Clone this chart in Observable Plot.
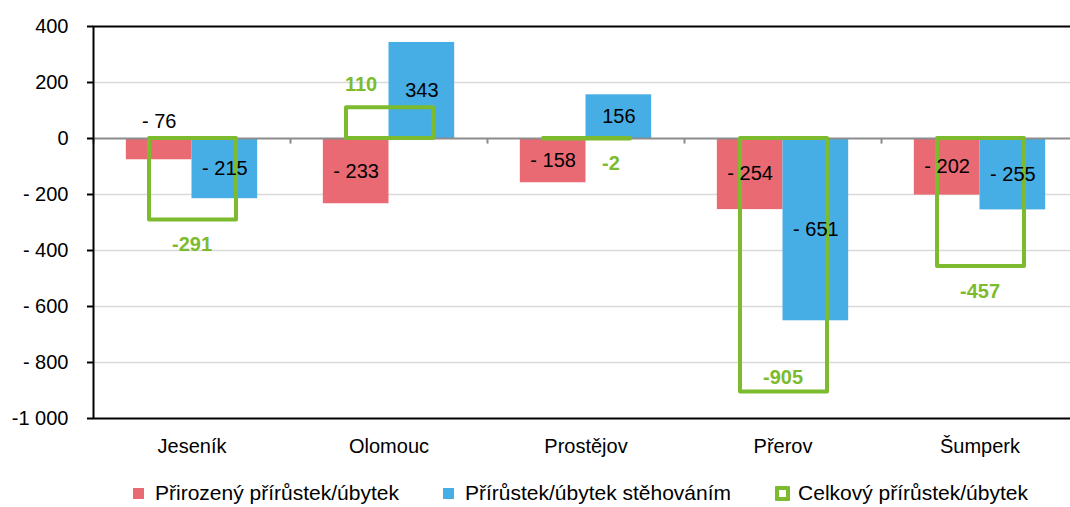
<!DOCTYPE html>
<html><head><meta charset="utf-8">
<script src="https://cdn.jsdelivr.net/npm/d3@7"></script>
<script src="https://cdn.jsdelivr.net/npm/@observablehq/plot@0.6"></script>
<style>
html,body{margin:0;padding:0;overflow:hidden;background:#fff;width:1070px;height:507px}
#chart{position:relative;width:1070px;height:507px;overflow:hidden}
#chart svg{max-width:none !important}
.legend{position:absolute;left:133px;top:481px;display:flex;align-items:center;font-family:"Liberation Sans",Arial,sans-serif;font-size:21px;line-height:24px;color:#000;white-space:nowrap}
.item{display:flex;align-items:center;margin-right:44px}
.sw{width:11px;height:11px;margin-right:11px;box-sizing:border-box}
.sw.box{width:15px;height:15px;border:4px solid #7DBB2E;background:#fff;margin-right:8px;border-radius:1px}
</style></head>
<body><div id="chart"></div>
<script>
const categories = ["Jeseník", "Olomouc", "Prostějov", "Přerov", "Šumperk"];
const natural   = [-76, -233, -158, -254, -202];
const migration = [-215, 343, 156, -651, -255];
const total     = [-291, 110, -2, -905, -457];
const yTicks = [400, 200, 0, -200, -400, -600, -800, -1000];
const seriesNames = ["Přirozený přírůstek/úbytek", "Přírůstek/úbytek stěhováním", "Celkový přírůstek/úbytek"];
const colors = ["#E96A72", "#46ADE5", "#7DBB2E"];

const rows = categories.map((c, i) => ({category: c, natural: natural[i], migration: migration[i], total: total[i]}));

const W = 1078, ML = 93, MR = 0;
const bw = (W - ML - MR) / categories.length;
const outer = bw / 6;           // gap at each side of the bar pair
const barHalf = (bw / 2 - outer) / 2;

const fmtBar = v => v < 0 ? "- " + (-v) : String(v);
const fmtTotal = v => String(v);
const fmtTick = v => v < 0 ? (v <= -1000 ? "-" : "- ") + d3.format(",")(-v).replace(/,/g, " ") : String(v);
const greenNudge = {"Olomouc": -28, "Prostějov": 25};
const font = "Liberation Sans, Arial, sans-serif";

const totalLabels = rows.map(d => Plot.text([d], {
  x: "category", y: "total", text: d => fmtTotal(d.total),
  dx: greenNudge[d.category] || 0,
  dy: d.total >= 0 ? -23 : (d.total < -800 ? -14 : 25),
  fill: colors[2], fontWeight: "bold", fontSize: 20
}));

const chart = Plot.plot({
  width: W, height: 470,
  marginLeft: ML, marginRight: MR, marginTop: 26, marginBottom: 52,
  style: {fontFamily: font, fontSize: "20px", color: "#000", background: "#fff", maxWidth: "none"},
  x: {domain: categories, padding: 0, label: null},
  y: {domain: [-1000, 400], label: null},
  marks: [
    Plot.ruleY(yTicks.filter(v => v !== 0 && v !== 400 && v !== -1000), {stroke: "#d9d9d9", strokeWidth: 1.5}),
    Plot.barY(rows, {x: "category", y: "natural", fill: colors[0], insetLeft: outer, insetRight: bw / 2}),
    Plot.barY(rows, {x: "category", y: "migration", fill: colors[1], insetLeft: bw / 2, insetRight: outer}),
    Plot.ruleY([0], {stroke: "#8c8c8c", strokeWidth: 2}),
    Plot.ruleX(categories, {x: d => d, y1: 0, y2: -20, dx: -bw / 2, stroke: "#8c8c8c", strokeWidth: 2}),
    Plot.barY(rows, {x: "category", y1: 0, y2: "total", fill: "none", stroke: colors[2], strokeWidth: 4,
      strokeLinejoin: "round", insetLeft: 56, insetRight: 54}),
    Plot.frame({stroke: "#000", strokeWidth: 2}),
    Plot.axisY({ticks: yTicks, tickFormat: fmtTick, tickSize: 6, tickPadding: 19, fontSize: 20, strokeWidth: 2}),
    Plot.axisX({tickSize: 0, tickPadding: 20, fontSize: 20}),
    Plot.text(rows.filter(d => Math.abs(d.natural) >= 100), {x: "category", y: d => d.natural / 2, text: d => fmtBar(d.natural), dx: -barHalf, fontSize: 20, fill: "#000"}),
    Plot.text(rows.filter(d => Math.abs(d.natural) < 100), {x: "category", y: 0, text: d => fmtBar(d.natural), dx: -barHalf, dy: -17, fontSize: 20, fill: "#000"}),
    Plot.text(rows.filter(d => Math.abs(d.migration) >= 100), {x: "category", y: d => d.migration / 2, text: d => fmtBar(d.migration), dx: barHalf, fontSize: 20, fill: "#000"}),
    Plot.text(rows.filter(d => Math.abs(d.migration) < 100), {x: "category", y: 0, text: d => fmtBar(d.migration), dx: barHalf, dy: -17, fontSize: 20, fill: "#000"}),
    ...totalLabels
  ]
});
const root = document.getElementById("chart");
root.appendChild(chart);

const legend = document.createElement("div");
legend.className = "legend";
seriesNames.forEach((name, i) => {
  const item = document.createElement("div");
  item.className = "item";
  const sw = document.createElement("div");
  sw.className = "sw" + (i === 2 ? " box" : "");
  if (i < 2) sw.style.background = colors[i];
  const t = document.createElement("span");
  t.textContent = name;
  item.appendChild(sw); item.appendChild(t);
  legend.appendChild(item);
});
root.appendChild(legend);
</script>
</body></html>
